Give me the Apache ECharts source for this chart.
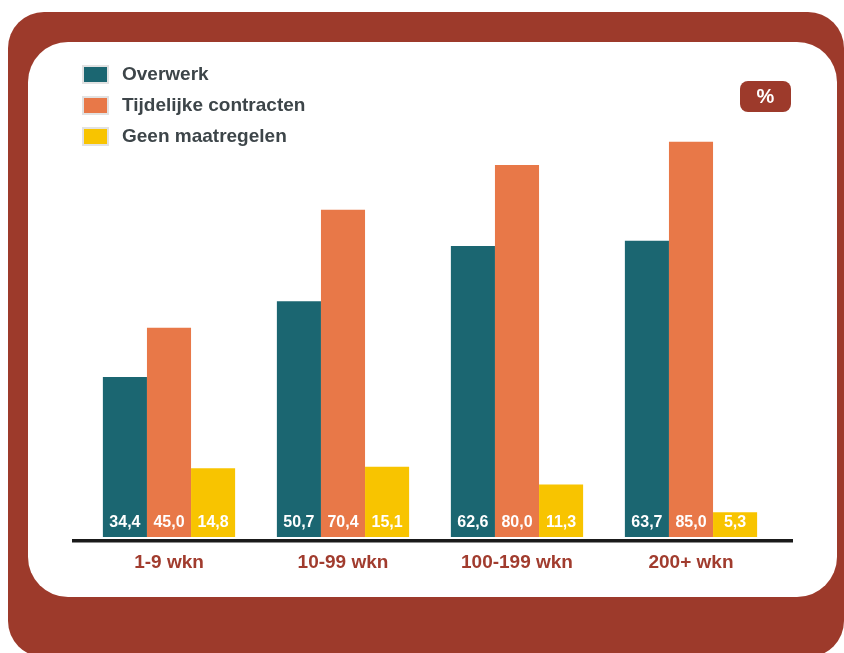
<!DOCTYPE html>
<html>
<head>
<meta charset="utf-8">
<script src="https://cdn.jsdelivr.net/npm/echarts@6/dist/echarts.min.js"></script>
<style>
html,body{margin:0;padding:0;background:#ffffff;}
#chart{width:844px;height:653px;}
</style>
</head>
<body>
<div id="chart"></div>
<script>
const categories = ['1-9 wkn', '10-99 wkn', '100-199 wkn', '200+ wkn'];
const seriesNames = ['Overwerk', 'Tijdelijke contracten', 'Geen maatregelen'];
const overwerk = [34.4, 50.7, 62.6, 63.7];
const tijdelijke = [45.0, 70.4, 80.0, 85.0];
const geen = [14.8, 15.1, 11.3, 5.3];
const unitLabel = '%';

const BROWN = '#9d3a2b';
const colors = ['#1b6671', '#e87848', '#f8c400'];

const chart = echarts.init(document.getElementById('chart'));

function fmt(p) { return p.value.toFixed(1).replace('.', ','); }

const labelStyle = {
  show: true,
  position: 'insideBottom',
  distance: 6,
  color: '#ffffff',
  fontFamily: '"Liberation Sans Narrow", "Arial Narrow", "Liberation Sans", sans-serif',
  fontWeight: 'bold',
  fontSize: 16
};

function mk(name, data, i) {
  return {
    name: name,
    type: 'bar',
    data: data,
    barGap: '0%',
    barCategoryGap: '24%',
    itemStyle: { color: colors[i] },
    label: Object.assign({ formatter: fmt }, labelStyle),
    z: 3
  };
}

chart.setOption({
  animation: false,
  backgroundColor: '#ffffff',
  graphic: [
    { type: 'rect', z: -20, shape: { x: 8, y: 12, width: 836, height: 645, r: 36 }, style: { fill: BROWN } },
    { type: 'rect', z: -19, shape: { x: 28, y: 42, width: 809, height: 555, r: 40 }, style: { fill: '#ffffff' } },
    { type: 'rect', z: -18, shape: { x: 740, y: 81, width: 51, height: 31, r: 8 }, style: { fill: BROWN } },
    { type: 'text', z: 10, x: 765.5, y: 97, style: { text: unitLabel, fill: '#ffffff', font: 'bold 20px "Liberation Sans", Arial, sans-serif', align: 'center', verticalAlign: 'middle' } },
    { type: 'rect', z: 10, shape: { x: 72, y: 539, width: 721, height: 3.5 }, style: { fill: '#1a1a1a' } }
  ],
  legend: {
    orient: 'vertical',
    left: 77,
    top: 60,
    itemWidth: 25,
    itemHeight: 17,
    itemGap: 12,
    data: seriesNames,
    icon: 'rect',
    itemStyle: { borderColor: '#e2e2e2', borderWidth: 2 },
    textStyle: {
      color: '#3d4549',
      fontFamily: '"Liberation Sans", Arial, sans-serif',
      fontWeight: 'bold',
      fontSize: 19,
      padding: [0, 0, 0, 9]
    }
  },
  grid: { left: 82, right: 66, top: 72, bottom: 116, containLabel: false },
  xAxis: {
    type: 'category',
    data: categories,
    axisLine: { show: false },
    axisTick: { show: false },
    axisLabel: {
      margin: 16,
      color: '#a13c2e',
      fontFamily: '"Liberation Sans", Arial, sans-serif',
      fontWeight: 'bold',
      fontSize: 19
    }
  },
  yAxis: {
    type: 'value',
    min: 0,
    max: 100,
    show: false,
    splitLine: { show: false }
  },
  series: [
    mk(seriesNames[0], overwerk, 0),
    mk(seriesNames[1], tijdelijke, 1),
    mk(seriesNames[2], geen, 2)
  ]
});
</script>
</body>
</html>
